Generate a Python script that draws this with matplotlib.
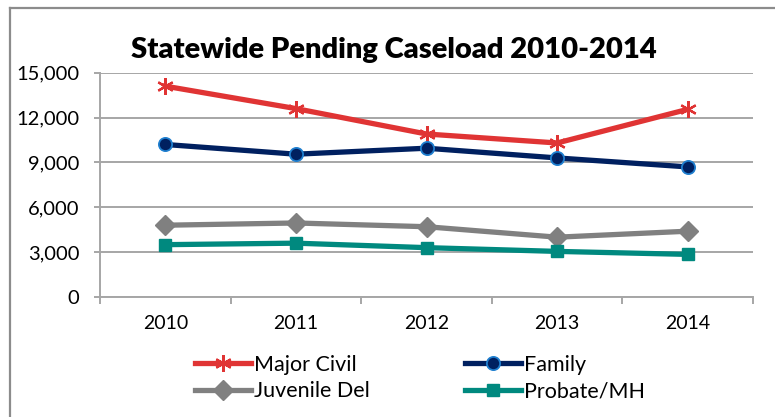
import matplotlib
matplotlib.use('Agg')
import matplotlib.pyplot as plt
from matplotlib.lines import Line2D

plt.rcParams['font.family'] = ['Lato', 'DejaVu Sans']

years = ['2010', '2011', '2012', '2013', '2014']
major_civil = [14100, 12600, 10900, 10300, 12550]
family = [10200, 9550, 9950, 9300, 8700]
juvenile_del = [4800, 4950, 4700, 4000, 4400]
probate_mh = [3500, 3600, 3300, 3050, 2850]
y_ticks = [0, 3000, 6000, 9000, 12000, 15000]

grid_col = '#A6A6A6'

fig = plt.figure(figsize=(7.75, 4.17), dpi=100)
ax = fig.add_axes([100/775, 1 - 297/417, 653/775, 224.3/417])

x = range(len(years))
h_mc, = ax.plot(x, major_civil, color='#E03434', lw=3.8, marker=(6, 2, 0),
                ms=12, mew=1.6, mec='#E03434', label='Major Civil', zorder=5)
h_fa, = ax.plot(x, family, color='#002060', lw=3.8, marker='o', ms=9.5,
                mfc='#002060', mec='#1F7FCF', mew=1.3, label='Family', zorder=5)
h_jd, = ax.plot(x, juvenile_del, color='#808080', lw=3.8, marker='D', ms=10,
                mfc='#808080', mec='#808080', label='Juvenile Del', zorder=5)
h_pm, = ax.plot(x, probate_mh, color='#00897F', lw=3.8, marker='s', ms=9,
                mfc='#00897F', mec='#00897F', label='Probate/MH', zorder=5)

ax.set_xlim(-0.5, len(years) - 0.5)
ax.set_ylim(0, 15000)
ax.set_yticks(y_ticks)
ax.set_yticklabels([f'{v:,}' for v in y_ticks])
ax.set_xticks(list(x))
ax.set_xticklabels(years)
ax.set_xticks([i - 0.5 for i in range(len(years) + 1)], minor=True)

ax.grid(axis='y', color=grid_col, lw=1.4)
ax.set_axisbelow(True)
for s in ['top', 'right']:
    ax.spines[s].set_visible(False)
for s in ['left', 'bottom']:
    ax.spines[s].set_color(grid_col)
    ax.spines[s].set_linewidth(1.4)

ax.tick_params(axis='y', length=4, width=1.4, color=grid_col, pad=11,
               labelsize=14.5, labelcolor='black')
ax.tick_params(axis='x', which='major', length=0, pad=13, labelsize=14)
ax.tick_params(axis='x', which='minor', length=5, width=1.4, color=grid_col)

fig.text(394/775, 1 - 50/417, 'Statewide Pending Caseload 2010-2014',
         ha='center', va='center', fontsize=21, fontweight='heavy')

fig.legend(handles=[h_mc, h_jd, h_fa, h_pm], ncol=2,
           loc='upper left', bbox_to_anchor=(195/775, 1 - 355/417),
           frameon=False, fontsize=15.5, handlelength=2.6, handletextpad=0.15,
           columnspacing=4.4, labelspacing=0.3, borderpad=0, borderaxespad=0)

# chart frame: left and top edges only
fig.add_artist(Line2D([10/775, 10/775], [0, 1 - 8/417], color='#8C8C8C',
                      lw=1.6, transform=fig.transFigure))
fig.add_artist(Line2D([10/775, 1], [1 - 8/417, 1 - 8/417], color='#8C8C8C',
                      lw=1.6, transform=fig.transFigure))

fig.savefig('out.png', dpi=100)
